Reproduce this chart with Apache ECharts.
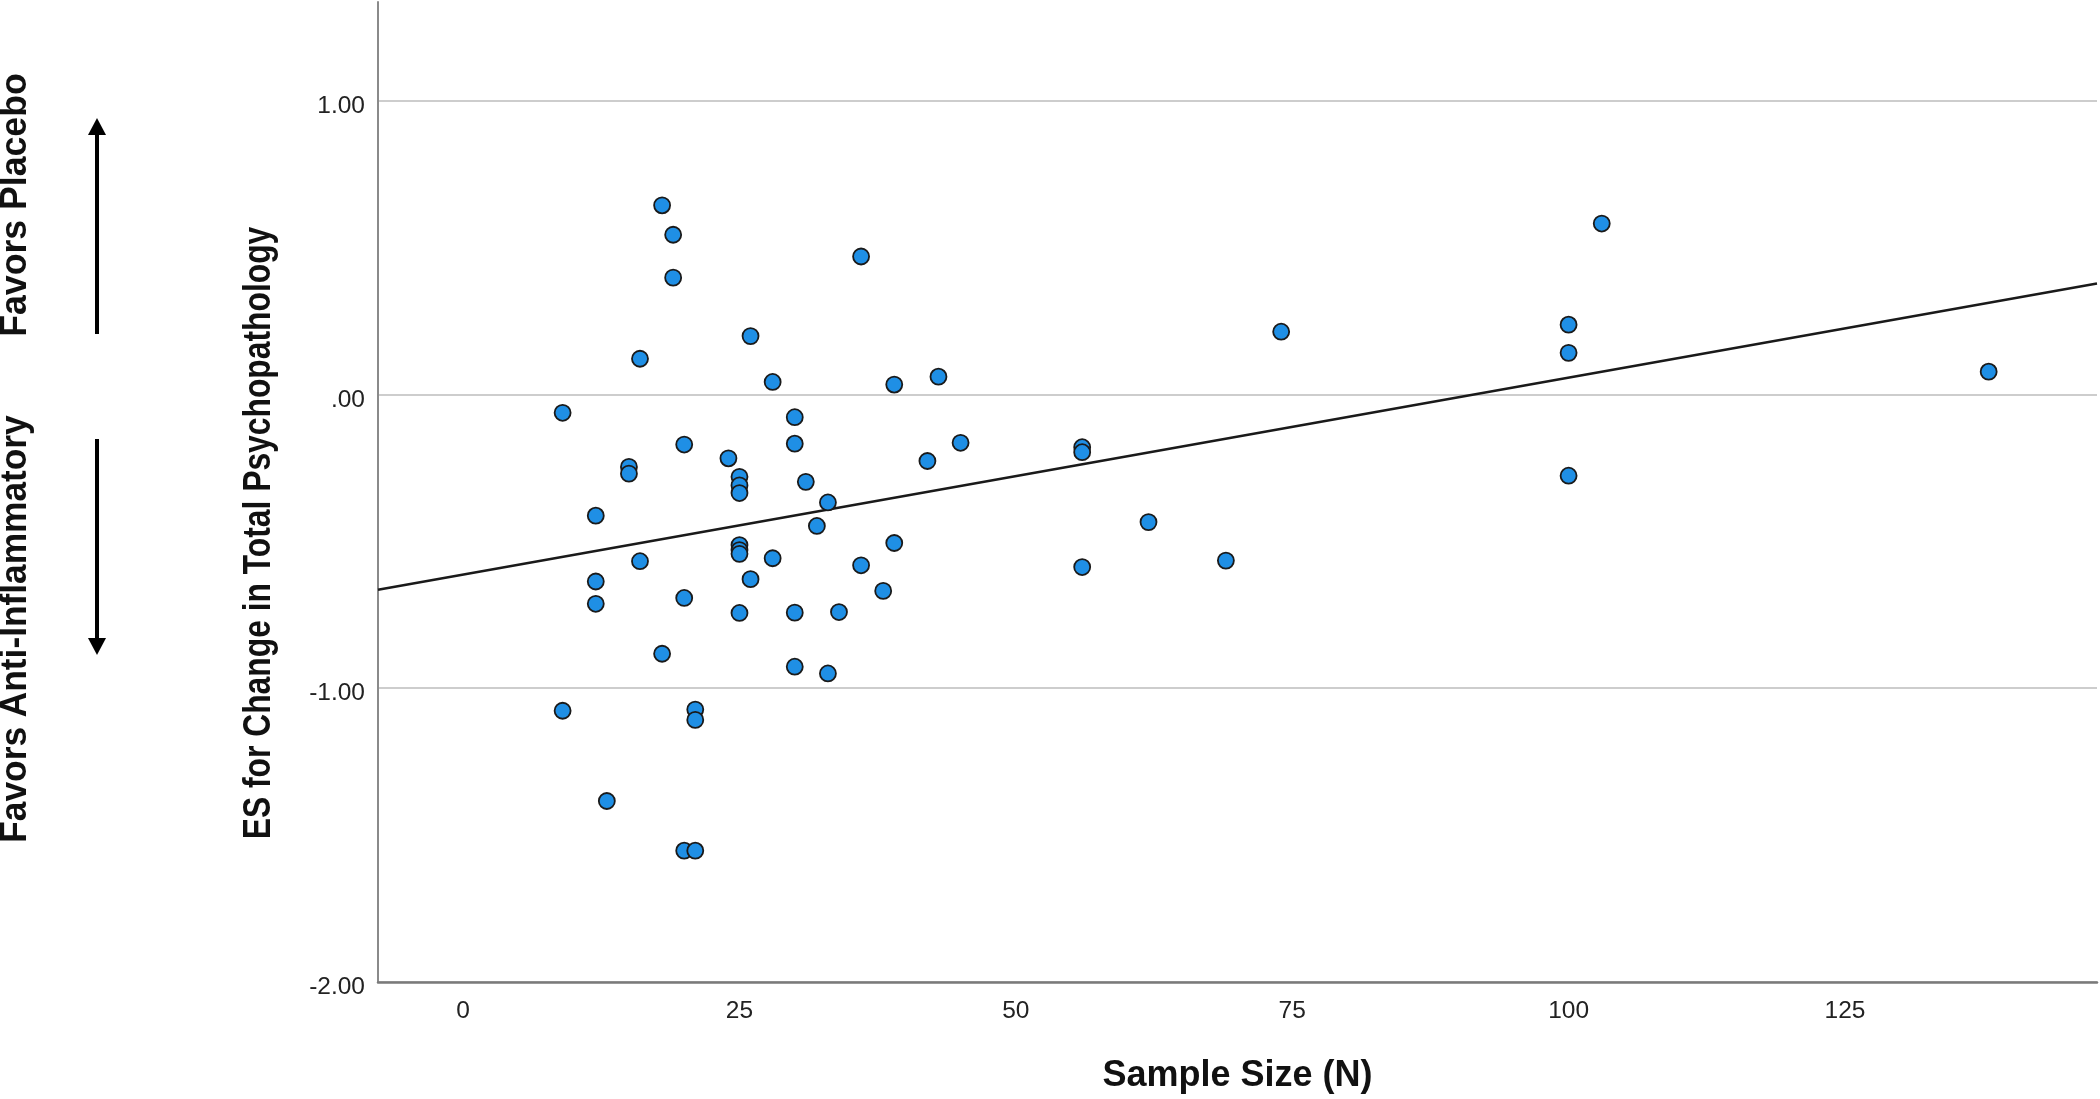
<!DOCTYPE html>
<html>
<head>
<meta charset="utf-8">
<script src="https://cdn.jsdelivr.net/npm/echarts@6/dist/echarts.min.js"></script>
<style>
html,body{margin:0;padding:0;background:#fff;}
#chart{width:2100px;height:1099px;}
</style>
</head>
<body>
<div id="chart"></div>
<script>
// ---- data ----
const sampleSize = [18,19,19,26,16,28,9,20,36,39,
                    43,30,45,24,15,15,25,25,25,30,
                    12,25,25,25,16,28,26,12,12,20,
                    25,18,42,31,33,32,39,36,38,30,
                    34,30,33,9,21,21,13,20,21,56,
                    56,62,56,69,103,100,100,100,138,74];
const effectSize = [0.643,0.543,0.397,0.198,0.121,0.042,-0.063,-0.171,0.469,0.033,
                    0.060,-0.078,-0.165,-0.218,-0.247,-0.270,-0.281,-0.310,-0.336,-0.168,
                    -0.413,-0.513,-0.530,-0.543,-0.568,-0.558,-0.629,-0.637,-0.713,-0.693,
                    -0.744,-0.883,-0.227,-0.298,-0.368,-0.448,-0.506,-0.582,-0.669,-0.743,
                    -0.741,-0.927,-0.950,-1.077,-1.073,-1.108,-1.384,-1.553,-1.553,-0.180,
                    -0.197,-0.435,-0.588,-0.566,0.581,0.237,0.141,-0.277,0.077,0.213];
const xTickValues = [0,25,50,75,100,125];
const yTickValues = [-2,-1,0,1];
const xAxisTitle = 'Sample Size (N)';
const yAxisTitle = 'ES for Change in Total Psychopathology';
const upLabel = 'Favors Placebo';
const downLabel = 'Favors Anti-Inflammatory';

// ---- axis extents ----
const X_MIN = -7.7, X_MAX = 147.8;
const Y_MIN = -2, Y_MAX = 1.335;

// ---- least-squares fit line (fit line at total) ----
const n = sampleSize.length;
const mx = sampleSize.reduce((a,b)=>a+b,0)/n;
const my = effectSize.reduce((a,b)=>a+b,0)/n;
let sxy = 0, sxx = 0;
for (let i = 0; i < n; i++) {
  sxy += (sampleSize[i]-mx)*(effectSize[i]-my);
  sxx += (sampleSize[i]-mx)*(sampleSize[i]-mx);
}
const slope = sxy/sxx;
const intercept = my - slope*mx;
const fitLine = [[X_MIN, intercept + slope*X_MIN],[X_MAX, intercept + slope*X_MAX]];
const points = sampleSize.map((x,i)=>[x, effectSize[i]]);

const FONT = '"Liberation Sans", Arial, Helvetica, sans-serif';

const chart = echarts.init(document.getElementById('chart'), null, {renderer:'canvas'});
const option = {
  animation: false,
  backgroundColor: '#ffffff',
  grid: {left: 378, right: 3, top: 2, bottom: 115, containLabel: false},
  xAxis: {
    type: 'value', min: X_MIN, max: X_MAX,
    name: xAxisTitle, nameLocation: 'middle', nameGap: 76,
    nameTextStyle: {fontFamily: FONT, fontWeight: 'bold', fontSize: 36, color: '#111'},
    axisLine: {show: true, onZero: false, lineStyle: {color: '#7a7a7a', width: 2.5}},
    axisTick: {show: false, customValues: xTickValues},
    axisLabel: {customValues: xTickValues, fontFamily: FONT, fontSize: 24.5, color: '#222', margin: 17,
                formatter: v => String(v)},
    splitLine: {show: false}
  },
  yAxis: {
    type: 'value', min: Y_MIN, max: Y_MAX,
    axisLine: {show: true, onZero: false, lineStyle: {color: '#8a8a8a', width: 2}},
    axisTick: {show: false, customValues: yTickValues},
    axisLabel: {customValues: yTickValues, fontFamily: FONT, fontSize: 24.5, color: '#222', margin: 13,
                verticalAlign: 'top', lineHeight: 11,
                formatter: v => Number(v).toFixed(2).replace(/^(-?)0\./, '$1.')},
    splitLine: {show: true, lineStyle: {color: '#cdcdcd', width: 2}}
  },
  series: [
    {type: 'line', data: fitLine, symbol: 'none', silent: true, z: 2,
     lineStyle: {color: '#1a1a1a', width: 2.5}},
    {type: 'scatter', data: points, symbol: 'circle', symbolSize: 16, z: 3,
     itemStyle: {color: '#1f8fe5', borderColor: '#1a1a1a', borderWidth: 1.8, opacity: 1}}
  ],
  graphic: [
    {type: 'text', x: 260, y: 533, rotation: Math.PI/2, scaleX: 0.837, z: 10,
     style: {text: yAxisTitle, fontFamily: FONT, fontSize: 38, fontWeight: 'bold', fill: '#111',
             align: 'center', verticalAlign: 'middle', textAlign: 'center', textVerticalAlign: 'middle'}},
    {type: 'text', x: 16, y: 205, rotation: Math.PI/2, scaleX: 0.99, z: 10,
     style: {text: upLabel, fontFamily: FONT, fontSize: 36, fontWeight: 'bold', fill: '#111',
             align: 'center', verticalAlign: 'middle', textAlign: 'center', textVerticalAlign: 'middle'}},
    {type: 'text', x: 16, y: 629, rotation: Math.PI/2, scaleX: 0.98, z: 10,
     style: {text: downLabel, fontFamily: FONT, fontSize: 36, fontWeight: 'bold', fill: '#111',
             align: 'center', verticalAlign: 'middle', textAlign: 'center', textVerticalAlign: 'middle'}},
    {type: 'line', z: 10, shape: {x1: 97, y1: 334, x2: 97, y2: 132}, style: {stroke: '#000', lineWidth: 4}},
    {type: 'polygon', z: 10, shape: {points: [[88,135],[106,135],[97,118]]}, style: {fill: '#000'}},
    {type: 'line', z: 10, shape: {x1: 97, y1: 439, x2: 97, y2: 641}, style: {stroke: '#000', lineWidth: 4}},
    {type: 'polygon', z: 10, shape: {points: [[88,638],[106,638],[97,655]]}, style: {fill: '#000'}}
  ]
};
chart.setOption(option);
</script>
</body>
</html>
